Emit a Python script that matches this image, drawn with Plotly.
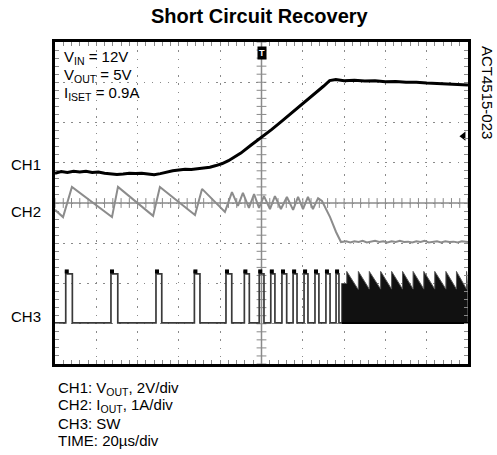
import numpy as np
import plotly.graph_objects as go

# ---- Scope capture: time in microseconds, vertical position in screen divisions (0..8) ----
# CH1: V_OUT trace
ch1_t = [0, 3, 6, 9, 12, 15, 18, 21, 24, 27, 30, 33, 36, 39, 42, 45, 48, 51, 54, 57, 60, 63, 66,
         69, 72, 75, 78, 81, 84, 87, 90, 95, 100, 105, 110, 115, 120, 125, 130, 133, 136, 140,
         145, 150, 155, 160, 165, 170, 175, 180, 185, 190, 195, 200]
ch1_v = [4.74, 4.78, 4.76, 4.79, 4.77, 4.79, 4.76, 4.77, 4.74, 4.73, 4.71, 4.72, 4.74, 4.73,
         4.74, 4.72, 4.70, 4.73, 4.77, 4.80, 4.82, 4.84, 4.83, 4.85, 4.87, 4.89, 4.93, 4.98,
         5.05, 5.14, 5.24, 5.44, 5.63, 5.83, 6.04, 6.25, 6.46, 6.67, 6.90, 7.04, 7.07, 7.04,
         7.05, 7.03, 7.04, 7.01, 7.02, 7.00, 7.00, 6.98, 6.97, 6.96, 6.95, 6.93]

# CH2: I_OUT inductor-current sawtooth
ch2_t = [0, 3.9, 8.2, 27.6, 30.5, 47.5, 50.8, 67.8, 71.2, 82.3, 85.7, 88.6, 91.0, 93.9, 96.4,
         98.8, 101.2, 104.1, 106.5, 109.4, 112.3, 115.3, 117.7, 120.1, 122.5, 124.9, 127.4,
         129.3, 133.2, 136.1, 138.5, 141, 143, 145, 147, 149, 151, 153, 155, 157, 159, 161,
         163, 165, 167, 169, 171, 173, 175, 177, 179, 181, 183, 185, 187, 189, 191, 193, 195,
         197, 200]
ch2_v = [3.83, 3.65, 4.40, 3.65, 4.40, 3.68, 4.40, 3.70, 4.35, 3.78, 4.27, 3.93, 4.25, 3.88,
         4.22, 3.88, 4.17, 3.85, 4.17, 3.85, 4.15, 3.83, 4.15, 3.85, 4.15, 3.85, 4.12, 4.05,
         3.65, 3.28, 3.03, 3.05, 3.02, 3.05, 3.03, 3.06, 3.02, 3.04, 3.06, 3.03, 3.05, 3.02,
         3.05, 3.03, 3.06, 3.03, 3.04, 3.02, 3.05, 3.03, 3.06, 3.02, 3.04, 3.05, 3.02, 3.05,
         3.03, 3.04, 3.02, 3.05, 3.03]

# CH3: SW node pulses (rising and falling edge times)
sw_rise = [5.2, 27.1, 48.9, 67.5, 82.8, 91.7, 98.9, 104.5, 109.9, 115.3, 120.6, 125.9, 131.2, 136.1]
sw_fall = [8.4, 30.4, 51.7, 70.2, 85.6, 94.1, 101.2, 106.5, 112.2, 117.2, 122.5, 127.8, 133.2, 137.5]
sw_low, sw_high, sw_peak = 1.02, 2.24, 2.32
# dense switching burst after recovery
burst_start = 138.8
burst_spikes = [141.3, 146.9, 152.2, 157.7, 163.0, 168.3, 173.4, 178.6, 183.9, 189.3, 194.4, 199.3]
burst_top, burst_trough = 2.30, 1.86

# ---- geometry helpers for layout decorations (pixel -> paper) ----
L, R, T, B = 55, 468, 42, 364
def px(x):
    return (x - L) / (R - L)
def py(y):
    return (B - y) / (B - T)

GRID = "#8a8a8a"
fig = go.Figure()

# graticule ticks on the centre cross
cx = np.arange(0, 200.01, 4)
fig.add_trace(go.Scatter(x=cx, y=[4] * len(cx), mode="markers",
                         marker=dict(symbol="line-ns-open", size=7, color=GRID,
                                     line=dict(width=1, color=GRID)),
                         hoverinfo="skip"))
cy = np.arange(0, 8.001, 0.2)
fig.add_trace(go.Scatter(x=[100] * len(cy), y=cy, mode="markers",
                         marker=dict(symbol="line-ew-open", size=7, color=GRID,
                                     line=dict(width=1, color=GRID)),
                         hoverinfo="skip"))

# CH3 pulse train
sx, sy = [0], [sw_low]
for r, f in zip(sw_rise, sw_fall):
    sx += [r, r, r + 0.8, f, f]
    sy += [sw_low, sw_peak, sw_high, sw_high, sw_low]
sx.append(burst_start)
sy.append(sw_low)
fig.add_trace(go.Scatter(x=sx, y=sy, mode="lines", line=dict(color="#3a3a3a", width=1.7),
                         hoverinfo="skip"))
fig.add_trace(go.Scatter(x=[r + 0.5 for r in sw_rise], y=[sw_peak - 0.02] * len(sw_rise),
                         mode="markers", marker=dict(color="black", size=4, symbol="square"),
                         hoverinfo="skip"))

# burst envelope filled down to the low level
bx, by = [burst_start, burst_start], [sw_low, 2.0]
for i, s in enumerate(burst_spikes):
    bx += [s, s]
    by += [by[-1], burst_top]
    nxt = burst_spikes[i + 1] if i + 1 < len(burst_spikes) else 200
    bx.append(nxt - 0.2)
    by.append(burst_trough)
bx += [200, burst_start]
by += [sw_low, sw_low]
fig.add_trace(go.Scatter(x=bx, y=by, mode="lines", fill="toself", fillcolor="#111111",
                         line=dict(color="#555555", width=1), hoverinfo="skip"))
fig.add_trace(go.Scatter(x=[burst_start, 200], y=[sw_low, sw_low], mode="lines",
                         line=dict(color="black", width=2), hoverinfo="skip"))

# CH2 and CH1
fig.add_trace(go.Scatter(x=ch2_t, y=ch2_v, mode="lines", line=dict(color="#8c8c8c", width=2),
                         hoverinfo="skip"))
fig.add_trace(go.Scatter(x=ch1_t, y=ch1_v, mode="lines", line=dict(color="black", width=3),
                         hoverinfo="skip"))

# trigger-level marker on the right edge
fig.add_trace(go.Scatter(x=[197.8], y=[5.66], mode="markers",
                         marker=dict(symbol="triangle-left", size=8, color="black"),
                         cliponaxis=False, hoverinfo="skip"))

axis_common = dict(showticklabels=False, showline=True, linewidth=2.5, linecolor="black",
                   mirror="allticks", ticks="inside", ticklen=4, tickcolor=GRID, zeroline=False,
                   showgrid=True, gridcolor=GRID, gridwidth=1.2)
fig.update_xaxes(range=[0, 200], dtick=20, griddash="1.5px,6.76px",
                 minor=dict(dtick=4, ticks="inside", ticklen=4, tickcolor=GRID, showgrid=False),
                 **axis_common)
fig.update_yaxes(range=[0, 8], dtick=1, griddash="1.5px,6.55px",
                 minor=dict(dtick=0.2, ticks="inside", ticklen=4, tickcolor=GRID, showgrid=False),
                 **axis_common)

# solid centre cross of the graticule
fig.add_shape(type="line", x0=100, x1=100, y0=0, y1=8, xref="x", yref="y",
              line=dict(color=GRID, width=1.5), layer="below")
fig.add_shape(type="line", x0=0, x1=200, y0=4, y1=4, xref="x", yref="y",
              line=dict(color=GRID, width=1.5), layer="below")

FONT = "Liberation Sans, Arial, sans-serif"
ann = []
def text(s, x, y, size=15, xanchor="left", **kw):
    ann.append(dict(text=s, x=px(x), y=py(y), xref="paper", yref="paper", showarrow=False,
                    xanchor=xanchor, yanchor="middle", font=dict(family=FONT, size=size,
                                                                 color=kw.pop("color", "black")),
                    **kw))

text("<b>Short Circuit Recovery</b>", 260, 16, size=20, xanchor="center")
text("V<sub>IN</sub> = 12V", 62, 57)
text("V<sub>OUT</sub> = 5V", 62, 75)
text("I<sub>ISET</sub> = 0.9A", 62, 93)
text("ACT4515-023", 487, 92, xanchor="center", textangle=90)
text("CH1", 43, 164, xanchor="right")
text("CH2", 43, 211, xanchor="right")
text("CH3", 43, 316, xanchor="right")
text("CH1: V<sub>OUT</sub>, 2V/div", 56, 388)
text("CH2: I<sub>OUT</sub>, 1A/div", 56, 405.5)
text("CH3: SW", 56, 423)
text("TIME: 20µs/div", 56, 440.5)
# trigger position flag
ann.append(dict(text="<b>T</b>", x=0.5, y=py(53), xref="paper", yref="paper", showarrow=False,
                xanchor="center", yanchor="middle", bgcolor="black", borderpad=1,
                font=dict(family=FONT, size=9, color="white")))

fig.update_layout(width=497, height=455, margin=dict(l=55, r=29, t=42, b=91),
                  paper_bgcolor="white", plot_bgcolor="white", showlegend=False,
                  hovermode=False, annotations=ann)

fig.write_html("out.html", config={"displayModeBar": False})
